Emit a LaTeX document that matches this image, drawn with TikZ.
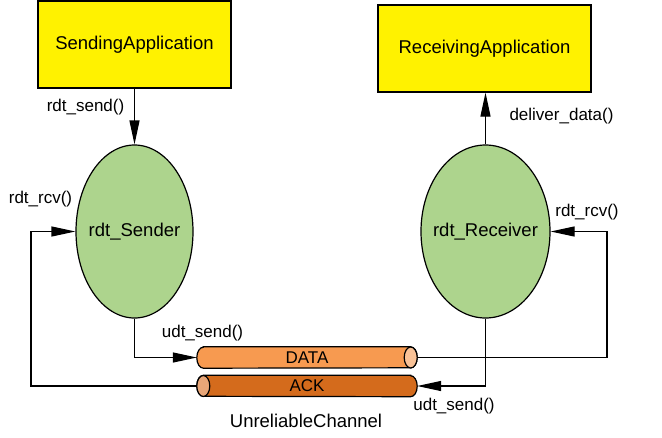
\documentclass[tikz,border=0pt]{standalone}
\usepackage{fontspec}
\setmainfont{Liberation Sans}
\usetikzlibrary{arrows.meta,shapes.geometric}
\definecolor{appyellow}{HTML}{FFF200}
\definecolor{nodegreen}{HTML}{ADD48D}
\definecolor{dataorange}{HTML}{F79A50}
\definecolor{datacap}{HTML}{F9C297}
\definecolor{ackorange}{HTML}{D46B1C}
\definecolor{ackcap}{HTML}{E8A678}
\begin{document}
\begin{tikzpicture}[x=1pt,y=-1pt,
  bigtext/.style={font=\fontsize{18.5}{22}\selectfont},
  smalltext/.style={font=\fontsize{17}{20}\selectfont},
  appbox/.style={draw,line width=1.2pt,fill=appyellow,rectangle,inner sep=0pt,bigtext},
  fsm/.style={draw,line width=1.2pt,fill=nodegreen,ellipse,inner sep=0pt,bigtext},
  chan/.style={rectangle,inner sep=0pt,minimum width=220pt,minimum height=21pt,smalltext},
  wire/.style={line width=1.2pt},
  arr/.style={wire,-{Triangle[length=24pt,width=10pt]}},
  lbl/.style={smalltext,inner sep=0pt}]
\useasboundingbox (0,0) rectangle (662,437);

\node[appbox,minimum width=193pt,minimum height=87pt] (sapp) at (134.5,44.5) {SendingApplication};
\node[appbox,minimum width=213pt,minimum height=87pt] (rapp) at (484.5,48.5) {ReceivingApplication};
\node[fsm,minimum width=117pt,minimum height=173pt] (sender) at (134.5,231.5) {\makebox[0pt][c]{rdt\_Sender}};
\node[fsm,minimum width=129pt,minimum height=173pt] (receiver) at (485.5,231.5) {\makebox[0pt][c]{rdt\_Receiver}};

% channel cylinders
\node[chan] (data) at (307,357.5) {};
\node[chan] (ack) at (307,386) {};
\fill[dataorange,draw=black,line width=1.2pt]
  ([xshift=6.5pt]data.north west) -- ([xshift=-6.5pt]data.north east)
  arc (90:-90:6.5pt and 10.5pt) -- ([xshift=6.5pt]data.south west)
  arc (270:90:6.5pt and 10.5pt) -- cycle;
\draw[fill=datacap,line width=1.2pt] ([xshift=-6.5pt]data.east) ellipse [x radius=6.5pt,y radius=10.5pt];
\fill[ackorange,draw=black,line width=1.2pt]
  ([xshift=-6.5pt]ack.north east) -- ([xshift=6.5pt]ack.north west)
  arc (90:270:6.5pt and 10.5pt) -- ([xshift=-6.5pt]ack.south east)
  arc (-90:90:6.5pt and 10.5pt) -- cycle;
\draw[fill=ackcap,line width=1.2pt] ([xshift=6.5pt]ack.west) ellipse [x radius=6.5pt,y radius=10.5pt];
\node[smalltext] at (data.center) {DATA};
\node[smalltext] at (ack.center) {ACK};

\coordinate (lc) at (31,300);
\coordinate (rc) at (607,300);

\draw[arr] (sapp.south) -- (sender.north);
\draw[arr] (receiver.north) -- (receiver.north |- rapp.south);
\draw[arr] (ack.west) -| (lc) |- (sender.west);
\draw[arr] (data.east) -| (rc) |- (receiver.east);
\draw[arr] (sender.south) |- (data.west);
\draw[arr] (receiver.south) |- (ack.east);

\node[lbl] (l1) at (85.5,107) {rdt\_send()};
\node[lbl] (l2) at (561.5,116) {deliver\_data()};
\node[lbl] (l3) at (40.5,199) {rdt\_rcv()};
\node[lbl] (l4) at (587,212) {rdt\_rcv()};
\node[lbl] (l5) at (202.5,333) {udt\_send()};
\node[lbl] (l6) at (454,406) {udt\_send()};
\node[bigtext,inner sep=0pt] (l7) at (306,421) {UnreliableChannel};
\end{tikzpicture}
\end{document}
